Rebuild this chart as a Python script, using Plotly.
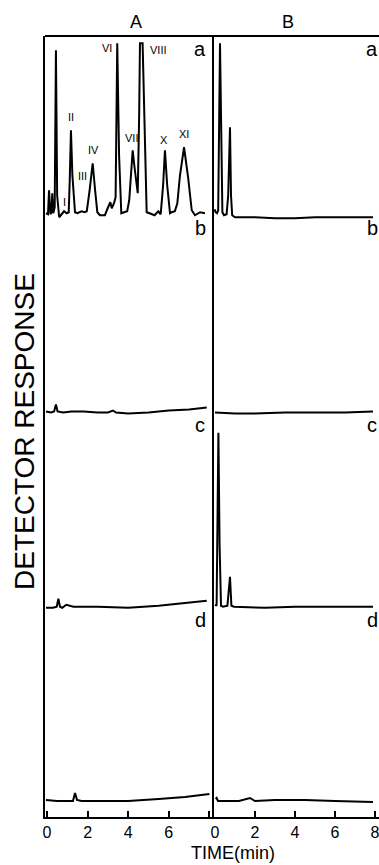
import plotly.graph_objects as go

# ---------------- data (time in min, detector response in arbitrary units) ----------------
# Panel A, chromatogram a (standard mixture, peaks I-XI)
A_a_time = [-0.05, 0.05, 0.10, 0.17, 0.22, 0.26, 0.31, 0.38, 0.44, 0.50, 0.60, 0.74, 0.84, 0.97,
            1.07, 1.12, 1.18, 1.25, 1.38, 1.50, 1.70, 1.85, 1.96, 2.10, 2.25, 2.37, 2.48, 2.61,
            2.85, 3.05, 3.12, 3.19, 3.30, 3.38, 3.46, 3.55, 3.66, 3.80, 3.95, 4.05, 4.15, 4.22,
            4.30, 4.40, 4.47, 4.54, 4.58, 4.71, 4.80, 4.91, 5.05, 5.30, 5.48, 5.60, 5.72, 5.81,
            5.92, 6.06, 6.14, 6.30, 6.42, 6.55, 6.75, 6.95, 7.13, 7.29, 7.54, 7.78]
A_a_resp = [2, 1, 25, 1, 3, 22, 2, 8, 165, 20, -2, 2, 4, 2,
            3, 35, 85, 40, 3, 2, 4, 3, 4, 25, 52, 25, 3, 0,
            0, 10, 13, 7, 12, 18, 172, 60, 2, 3, 4, 15, 50, 65,
            50, 30, 22, 100, 172, 172, 80, 3, 2, 0, 4, 1, 30, 65,
            30, 2, 3, 4, 12, 40, 68, 38, 5, 0, 3, 2]

A_b_time = [-0.05, 0.20, 0.35, 0.44, 0.52, 0.80, 1.20, 1.80, 2.50, 3.00, 3.25, 3.40, 4.00, 5.00, 6.00, 7.00, 7.87]
A_b_resp = [-1, -2, -1, 6, -1, -2, -1, -1, -2, -2, 0, -2, -3, -2, 0, 1, 3]

A_c_time = [-0.05, 0.30, 0.48, 0.56, 0.64, 0.75, 0.95, 1.30, 2.50, 4.00, 5.50, 6.50, 7.87]
A_c_resp = [-2, -2, -1, 7, -1, -2, 1, -1, -1, -2, 0, 2, 5]

A_d_time = [-0.05, 0.50, 1.00, 1.28, 1.38, 1.48, 1.70, 2.50, 4.00, 5.50, 6.80, 8.00]
A_d_resp = [1, 0, 0, 0, 8, 1, 0, 0, 0, 2, 4, 7]

# Panel B
B_a_time = [-0.02, 0.03, 0.10, 0.16, 0.25, 0.31, 0.37, 0.45, 0.58, 0.66, 0.75, 0.80, 0.86,
            1.00, 2.00, 3.00, 4.00, 5.00, 6.00, 7.00, 7.90]
B_a_resp = [6, 3, 2, 5, 172, 60, 3, 0, 1, 20, 88, 20, 0,
            -2, -2, -3, -3, -2, -2, -2, -2]

B_b_time = [0.00, 1.00, 2.00, 3.50, 5.00, 6.50, 7.90]
B_b_resp = [-2, -3, -3, -2, -2, -2, -1]

B_c_time = [0.00, 0.08, 0.17, 0.23, 0.30, 0.40, 0.62, 0.75, 0.82, 0.95, 2.50, 4.00, 5.50, 7.90]
B_c_resp = [1, 0, 173, 60, 0, -1, 0, 29, 0, -1, -2, -1, -1, -1]

B_d_time = [0.03, 0.08, 0.15, 0.50, 1.20, 1.75, 2.00, 3.00, 4.50, 6.00, 7.90]
B_d_resp = [2, 3, 0, 0, 0, 3, 0, 1, 1, 0, -1]

row_labels = ["a", "b", "c", "d"]
panel_titles = ["A", "B"]
tick_vals = [0, 2, 4, 6, 8]
tick_text_A = ["0", "2", "4", "6", ""]
tick_text_B = ["0", "2", "4", "6", "8"]

peak_names = ["I", "II", "III", "IV", "VI", "VII", "VIII", "X", "XI"]
peak_label_time = [0.84, 1.18, 1.75, 2.27, 2.96, 4.18, 5.47, 5.76, 6.75]
peak_label_resp = [13, 98, 39, 65, 167, 77, 165, 75, 81]

# ---------------- figure ----------------
FONT = "Liberation Sans, Arial, Helvetica, sans-serif"
W, H = 379, 865
ML, MR, MT, MB = 45, 0, 36, 48
PW, PH = W - ML - MR, H - MT - MB

split = 169 / PW   # boundary between panel A and panel B
row_edges = [1.0, 0.75, 0.5, 0.25, 0.0]
y_range = [-16, PH / 4 - 16]

A_series = [(A_a_time, A_a_resp), (A_b_time, A_b_resp), (A_c_time, A_c_resp), (A_d_time, A_d_resp)]
B_series = [(B_a_time, B_a_resp), (B_b_time, B_b_resp), (B_c_time, B_c_resp), (B_d_time, B_d_resp)]

fig = go.Figure()
line_style = dict(color="black", width=2)

for i, (t, r) in enumerate(A_series):
    fig.add_trace(go.Scatter(x=t, y=r, mode="lines", line=line_style, xaxis="x", yaxis=f"y{i+1}",
                             showlegend=False, hoverinfo="skip"))
for i, (t, r) in enumerate(B_series):
    fig.add_trace(go.Scatter(x=t, y=r, mode="lines", line=line_style, xaxis="x2", yaxis=f"y{i+5}",
                             showlegend=False, hoverinfo="skip"))

layout = dict(
    width=W, height=H,
    margin=dict(l=ML, r=MR, t=MT, b=MB, pad=0),
    paper_bgcolor="white", plot_bgcolor="white",
    font=dict(family=FONT, color="black"),
    showlegend=False,
)

xcommon = dict(showgrid=False, zeroline=False, showline=True, linecolor="black", linewidth=2,
               ticks="inside", ticklen=6, tickwidth=1.5, tickcolor="black",
               ticklabeloverflow="allow",
               tickvals=tick_vals, tickfont=dict(size=16, family=FONT, color="black"))
layout["xaxis"] = dict(xcommon, domain=[0, split], range=[-2 / 20.3, 167 / 20.3], anchor="y4",
                       ticktext=tick_text_A)
layout["xaxis2"] = dict(xcommon, domain=[split, 1], range=[-0.05, 8.2], anchor="y8",
                        ticktext=tick_text_B)

for i in range(4):
    dom = [row_edges[i + 1], row_edges[i]]
    ycommon = dict(domain=dom, range=y_range, showgrid=False, zeroline=False, showticklabels=False,
                   ticks="", showline=True, linecolor="black", linewidth=2)
    layout[f"yaxis{i+1}"] = dict(ycommon, anchor="x")
    layout[f"yaxis{i+5}"] = dict(ycommon, anchor="x2")

fig.update_layout(**layout)

# top frame line
fig.add_shape(type="line", xref="paper", yref="paper", x0=0, x1=1, y0=1, y1=1,
              line=dict(color="black", width=2))

C = dict(showarrow=False, xanchor="center", yanchor="middle")
ann = []
# panel titles
for name, xp in zip(panel_titles, [(136 - ML) / PW, (288 - ML) / PW]):
    ann.append(dict(C, text=name, xref="paper", yref="paper", x=xp, y=(PH + MT - 22) / PH,
                    font=dict(size=18, family=FONT)))
# chromatogram labels a-d
label_y_px = [49, 228, 425, 620]
for lab, ypx in zip(row_labels, label_y_px):
    yp = (MT + PH - ypx) / PH
    ann.append(dict(C, text=lab, xref="paper", yref="paper", x=(200 - ML) / PW, y=yp,
                    font=dict(size=20, family=FONT)))
    ann.append(dict(C, text=lab, xref="paper", yref="paper", x=(372 - ML) / PW, y=yp,
                    font=dict(size=20, family=FONT)))
# peak numerals
for nm, t, r in zip(peak_names, peak_label_time, peak_label_resp):
    ann.append(dict(C, text=nm, xref="x", yref="y1", x=t, y=r, font=dict(size=11, family=FONT)))
# axis titles
ann.append(dict(C, text="DETECTOR RESPONSE", xref="paper", yref="paper", x=(24 - ML) / PW,
                y=(MT + PH - 432) / PH, textangle=-90, font=dict(size=28, family=FONT)))
ann.append(dict(text="TIME(min)", xref="paper", yref="paper", x=(233 - ML) / PW,
                y=(MT + PH - 865) / PH, showarrow=False, xanchor="center", yanchor="bottom",
                font=dict(size=18, family=FONT)))
fig.update_layout(annotations=ann)

fig.write_html("out.html", config={"displayModeBar": False},
               post_script="document.body.style.margin='0';")
